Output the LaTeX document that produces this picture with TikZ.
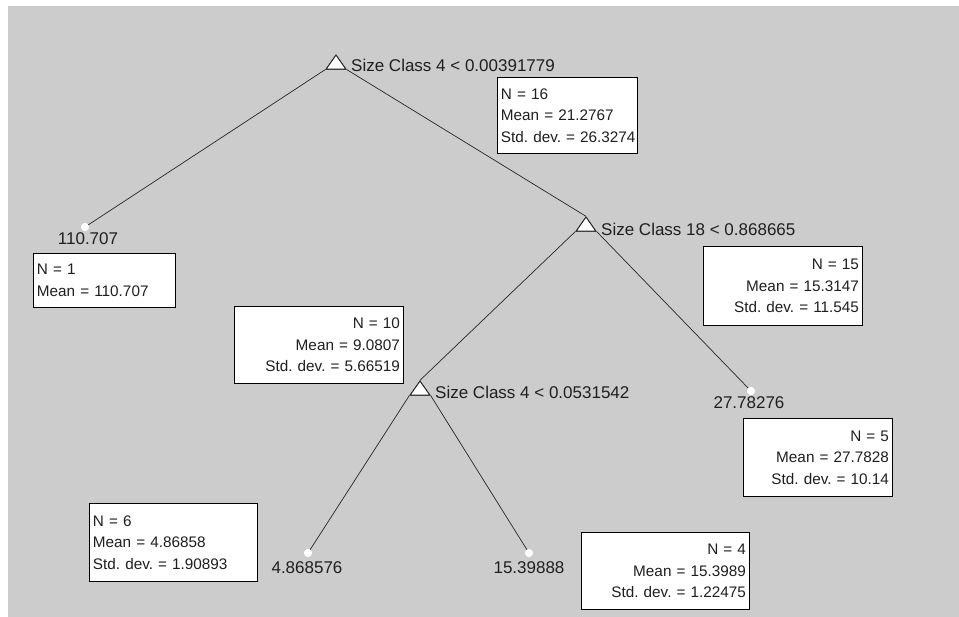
\documentclass[tikz,border=0pt]{standalone}
\usepackage{fontspec}
\setmainfont{Liberation Sans}
\usetikzlibrary{shapes.geometric}
\begin{document}
\frenchspacing
\begin{tikzpicture}[x=1pt,y=-1pt,
  every node/.style={text=black!88},
  splitnode/.style={draw=black!85, fill=white, line width=0.9pt, isosceles triangle,
    isosceles triangle apex angle=70, shape border rotate=90, inner sep=0pt,
    minimum height=14pt, minimum width=18pt},
  leafdot/.style={circle, fill=white, inner sep=0pt, minimum size=8pt},
  rulelabel/.style={anchor=west, inner sep=0pt, font=\fontsize{17}{20}\selectfont},
  leaflabel/.style={anchor=center, inner sep=0pt, font=\fontsize{17}{20}\selectfont},
  treeline/.style={draw=black!85, line width=0.7pt},
  statbox/.style={draw=black, fill=white, line width=0.9pt, anchor=north west,
    inner xsep=3.5pt, inner ysep=0pt, font=\fontsize{15.3}{21.5}\selectfont},
  boxw/.style={text width=#1pt-7pt}
]
% canvas
\fill[white] (0,0) rectangle (959,617);
\fill[gray!40] (8,6) rectangle (959,617);
\useasboundingbox (0,0) rectangle (959,617);

% split nodes
\node[splitnode] (s1) at (336,64) {};
\node[rulelabel] (r1) at (351,65) {Size Class 4 < 0.00391779};
\node[splitnode] (s2) at (586,226) {};
\node[rulelabel] (r2) at (601,229) {Size Class 18 < 0.868665};
\node[splitnode] (s3) at (420,390) {};
\node[rulelabel] (r3) at (435,392) {Size Class 4 < 0.0531542};

% leaves
\node[leafdot] (l1) at (85,227) {};
\node[leaflabel] (v1) at (88,239) {110.707};
\node[leafdot] (l2) at (751,391) {};
\node[leaflabel] (v2) at (749,403) {27.78276};
\node[leafdot] (l3) at (308,553) {};
\node[leaflabel] (v3) at (307,568) {4.868576};
\node[leafdot] (l4) at (529,553) {};
\node[leaflabel] (v4) at (529,568) {15.39888};

% connectors
\draw[treeline] (s1.left corner) -- (l1.center);
\draw[treeline] (s1.right corner) -- (s2.apex);
\draw[treeline] (s2.left corner) -- (s3.apex);
\draw[treeline] (s2.right corner) -- (l2.center);
\draw[treeline] (s3.left corner) -- (l3.center);
\draw[treeline] (s3.right corner) -- (l4.center);
\node[splitnode] at (s1) {};
\node[splitnode] at (s2) {};
\node[splitnode] at (s3) {};
\node[leafdot] at (l1) {};
\node[leafdot] at (l2) {};
\node[leafdot] at (l3) {};
\node[leafdot] at (l4) {};

% statistics boxes
\node[statbox, boxw=140, minimum height=76pt, align=left] (b16) at (497,77)
  {N~=~16\\Mean~=~21.2767\\Std.~dev.~=~26.3274};
\node[statbox, boxw=142, minimum height=54pt, align=left] (b1) at (33,253)
  {N~=~1\\Mean~=~110.707};
\node[statbox, boxw=159, minimum height=79pt, align=right] (b15) at (703,246)
  {N~=~15\\Mean~=~15.3147\\Std.~dev.~=~11.545};
\node[statbox, boxw=169, minimum height=77pt, align=right] (b10) at (234,306)
  {N~=~10\\Mean~=~9.0807\\Std.~dev.~=~5.66519};
\node[statbox, boxw=149, minimum height=78pt, align=right] (b5) at (743,418)
  {N~=~5\\Mean~=~27.7828\\Std.~dev.~=~10.14};
\node[statbox, boxw=168, minimum height=78pt, align=left] (b6) at (89,503)
  {N~=~6\\Mean~=~4.86858\\Std.~dev.~=~1.90893};
\node[statbox, boxw=168, minimum height=77pt, align=right] (b4) at (581,532)
  {N~=~4\\Mean~=~15.3989\\Std.~dev.~=~1.22475};
\end{tikzpicture}
\end{document}
